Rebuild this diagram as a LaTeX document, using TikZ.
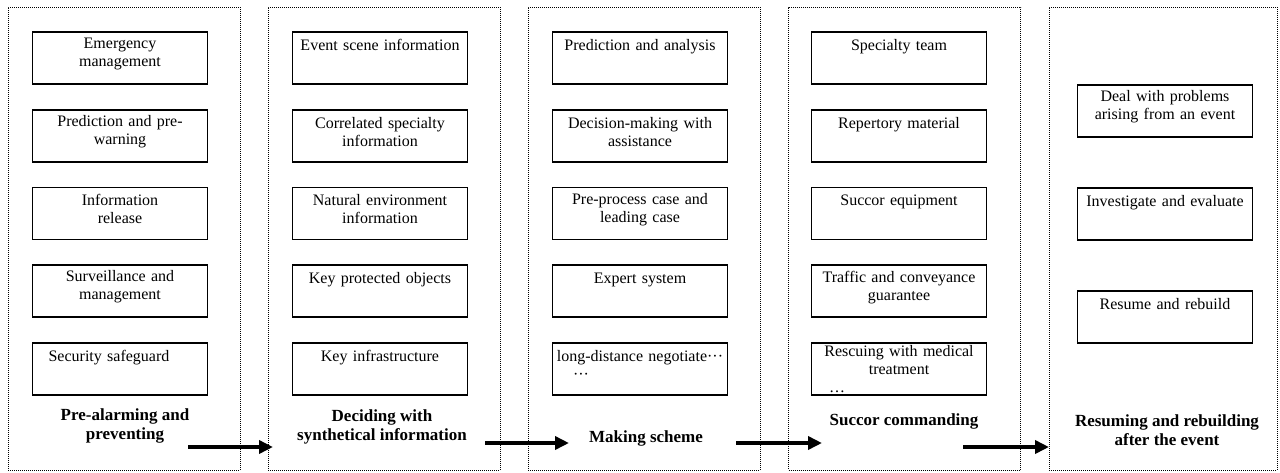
\documentclass[tikz,border=0pt]{standalone}
\usepackage{fontspec}
\setmainfont{Liberation Serif}
\usetikzlibrary{arrows.meta}
\tikzset{
  stage/.style={draw, dash pattern=on 1pt off 1pt, line width=1pt, minimum height=463pt, inner sep=0pt},
  itembox/.style={draw, line width=1.6pt, minimum width=175pt, minimum height=52pt,
    text width=172pt, align=center, inner sep=0pt, font=\fontsize{16}{18}\selectfont},
  item/.style={itembox, execute at end node={\par\vspace*{8pt}}},
  title/.style={align=center, font=\fontsize{17}{19}\selectfont\bfseries},
  flow/.style={line width=3.5pt, -{Triangle[length=14pt,width=13pt]}}
}
\begin{document}
\begin{tikzpicture}[x=1pt,y=-1pt]
\useasboundingbox (0,0) rectangle (1280,472);
%stages
\foreach \x/\w [count=\i] in {124/232,384/232,644/232,904.5/232,1163/228}
  \node[stage, minimum width=\w pt] (stage\i) at (\x,238.5) {};
%pre-alarming
\foreach \t [count=\i] in {{Emergency\\management},{Prediction and pre-\\warning},
    {Information\\release},{Surveillance and\\management},{Security safeguard\hspace{22pt}\mbox{}\\~}}
  \node[item] (pre\i) at (120,{58+77.7*(\i-1)}) {\t};
%deciding
\foreach \t [count=\i] in {{Event scene information\\~},{Correlated specialty\\information},
    {Natural environment\\information},{Key protected objects\\~},{Key infrastructure\\~}}
  \node[item] (dec\i) at (380,{58+77.7*(\i-1)}) {\t};
%scheme
\foreach \t [count=\i] in {{Prediction and analysis\\~},{Decision-making with\\assistance},
    {Pre-process case and\\leading case},{Expert system\\~},
    {long-distance negotiate···\\\makebox[140pt][l]{\hspace*{3pt}···}}}
  \node[item] (sch\i) at (640,{58+77.7*(\i-1)}) {\t};
%succor
\foreach \t [count=\i] in {{Specialty team\\~},{Repertory material\\~},{Succor equipment\\~},
    {Traffic and conveyance\\guarantee}}
  \node[item] (suc\i) at (899,{58+77.7*(\i-1)}) {\t};
\node[itembox] (suc5) at (899,369)
  {Rescuing with medical\\treatment\\\makebox[140pt][l]{\ldots}};
%rebuilding
\foreach \t [count=\i] in {{Deal with problems\\arising from an event},
    {Investigate and evaluate\\~},{Resume and rebuild\\~}}
  \node[item] (reb\i) at (1165,{111+103*(\i-1)}) {\t};
%titles
\node[title] (tpre) at (125,426) {Pre-alarming and\\preventing};
\node[title] (tdec) at (382,427) {Deciding with\\synthetical information};
\node[title] (tsch) at (646,438) {Making scheme};
\node[title] (tsuc) at (904,421) {Succor commanding};
\node[title] (treb) at (1167,430) {Resuming and rebuilding\\after the event};
%arrows
\coordinate (a1s) at (188,447);
\coordinate (a1e) at (273,447);
\coordinate (a2s) at (485,443);
\coordinate (a2e) at (569,443);
\coordinate (a3s) at (736,443);
\coordinate (a3e) at (822,443);
\coordinate (a4s) at (963,447);
\coordinate (a4e) at (1049,447);
\foreach \i in {1,...,4}
  \draw[flow] (a\i s) -- (a\i e);
\end{tikzpicture}
\end{document}
